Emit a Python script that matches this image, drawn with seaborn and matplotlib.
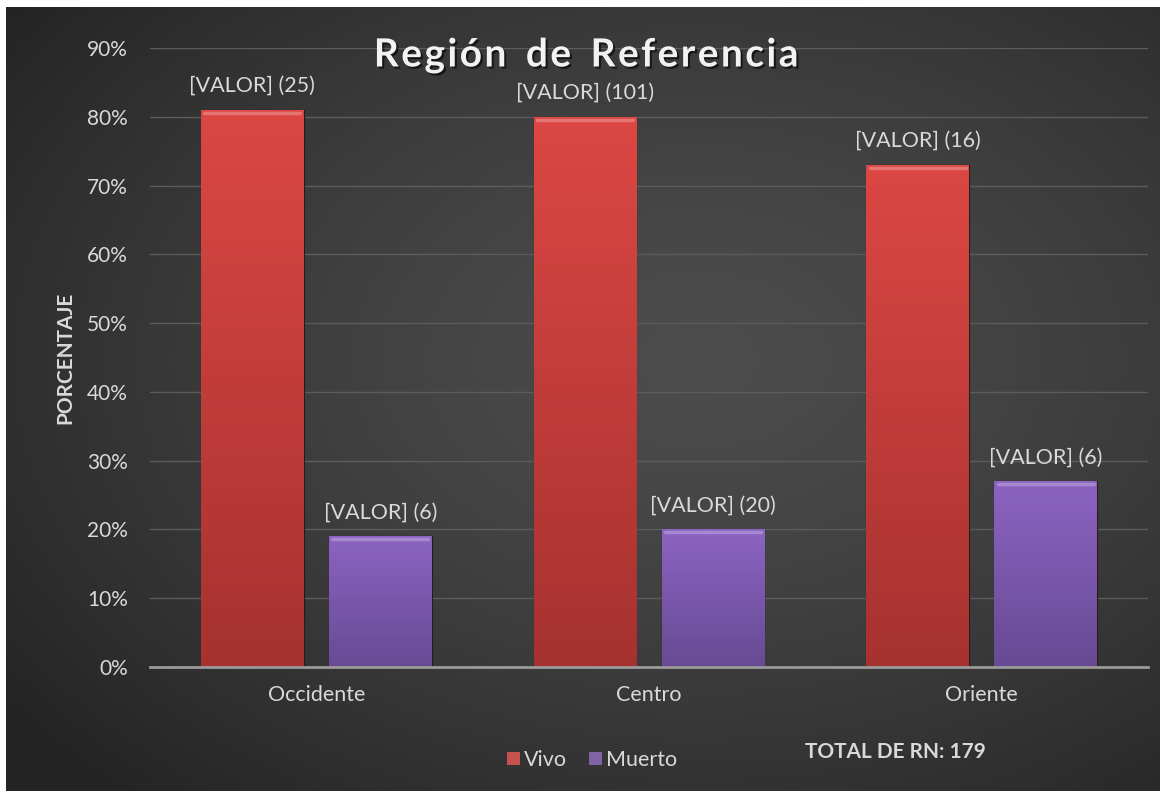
import numpy as np
import pandas as pd
import matplotlib
matplotlib.use('Agg')
import matplotlib.pyplot as plt
import matplotlib.patheffects as pe
from matplotlib.ticker import PercentFormatter
import seaborn as sns

regiones = ['Occidente', 'Centro', 'Oriente']
vivo = [81, 80, 73]
muerto = [19, 20, 27]
n_vivo = [25, 101, 16]
n_muerto = [6, 20, 6]
estados = ['Vivo', 'Muerto']
total_rn = 179

df = pd.DataFrame({
    'region': regiones * 2,
    'estado': ['Vivo'] * 3 + ['Muerto'] * 3,
    'pct': [v / 100 for v in vivo + muerto],
    'n': n_vivo + n_muerto,
})

sns.set_theme(style='dark')
plt.rcParams['font.family'] = ['Lato', 'DejaVu Sans']
txt = '#d9d9d9'

W, H = 1165, 796
fig = plt.figure(figsize=(W / 100, H / 100), dpi=100, facecolor='white')

# fondo con degradado radial
bg = fig.add_axes([6 / W, 5 / H, (1160 - 6) / W, (789 - 5) / H])
yy, xx = np.mgrid[0:1:300j, 0:1:400j]
r = np.sqrt(((xx - 0.6) / 0.75) ** 2 + ((yy - 0.55) / 0.75) ** 2)
r = np.clip(r, 0, 1)
shade = 0x4c - (0x4c - 0x24) * r ** 1.4
img = np.dstack([shade / 255] * 3)
bg.imshow(img, aspect='auto', extent=[0, 1, 0, 1], origin='lower')
bg.set_axis_off()

ax = fig.add_axes([150 / W, 1 - 667 / H, (1148 - 150) / W, (667 - 48) / H])
ax.set_facecolor('none')
colores = {'Vivo': '#d6403c', 'Muerto': '#7e58b0'}
sns.barplot(data=df, x='region', y='pct', hue='estado', order=regiones,
            hue_order=estados, palette=colores, width=0.77, gap=0.2,
            edgecolor='none', ax=ax, zorder=3)

# degradado vertical dentro de cada barra
grad = {'Vivo': ('#dc4743', '#a63230'), 'Muerto': ('#8c63c2', '#684a94')}
bars = [p for p in ax.patches if p.get_height() > 0]
est_bar = ['Vivo'] * 3 + ['Muerto'] * 3
for p, est in zip(bars, est_bar):
    top_c, bot_c = [np.array(matplotlib.colors.to_rgb(c)) for c in grad[est]]
    t = np.linspace(0, 1, 100)[:, None]
    col = bot_c * (1 - t) + top_c * t
    im = ax.imshow(col[:, None, :].repeat(2, axis=1), aspect='auto', origin='lower',
                   extent=[p.get_x(), p.get_x() + p.get_width(), 0, p.get_height()],
                   zorder=4)
    im.set_clip_path(p)
    p.set_edgecolor('#2a1a1a')
    p.set_linewidth(0.8)
    ax.plot([p.get_x() + 0.01, p.get_x() + p.get_width() - 0.01],
            [p.get_height() - 0.004] * 2, color='white', alpha=0.25, lw=2.5, zorder=5)

for cont, est in zip(ax.containers, estados):
    sub = df[df['estado'] == est].set_index('region').loc[regiones]
    labels = [f'[VALOR] ({n})' for n in sub['n']]
    ax.bar_label(cont, labels=labels, padding=10, color=txt, fontsize=15.5)

ax.set_xlim(-0.5, 2.5)
ax.set_ylim(0, 0.9)
ax.set_yticks(np.arange(0, 0.91, 0.1))
ax.yaxis.set_major_formatter(PercentFormatter(1, decimals=0))
ax.grid(axis='y', color='#5c5c5c', lw=1, zorder=0)
ax.grid(axis='x', visible=False)
for s in ['top', 'right', 'left']:
    ax.spines[s].set_visible(False)
ax.spines['bottom'].set_color('#9a9a9a')
ax.spines['bottom'].set_linewidth(2)
ax.spines['bottom'].set_zorder(6)
ax.tick_params(axis='y', colors=txt, labelsize=15, length=0, pad=16)
ax.tick_params(axis='x', colors=txt, labelsize=15.5, length=0, pad=13)
ax.set_xlabel('')
ax.set_ylabel('PORCENTAJE', color=txt, fontsize=15, fontweight='bold', labelpad=8)

fig.text(586 / W, 1 - 55 / H, 'R e g i ó n   d e   R e f e r e n c i a'.replace('   ', '\u2002').replace(' ', '\u200a'),
         ha='center', va='center', color='#f2f2f2', fontsize=28, fontweight='bold',
         path_effects=[pe.withSimplePatchShadow(offset=(1.5, -1.5), shadow_rgbFace='black', alpha=0.6)])

handles, lbls = ax.get_legend_handles_labels()
ax.legend(handles, lbls, loc='center', bbox_to_anchor=(592 / W, 1 - 760 / H),
          bbox_transform=fig.transFigure, ncol=2, frameon=False, fontsize=15.5,
          labelcolor=txt, handlelength=0.6, handleheight=0.6, handletextpad=0.2,
          columnspacing=1.0)

fig.text(895 / W, 1 - 752 / H, f'TOTAL DE RN: {total_rn}', ha='center', va='center',
         color=txt, fontsize=15, fontweight='bold')

fig.savefig('out.png', dpi=100, facecolor='white')
